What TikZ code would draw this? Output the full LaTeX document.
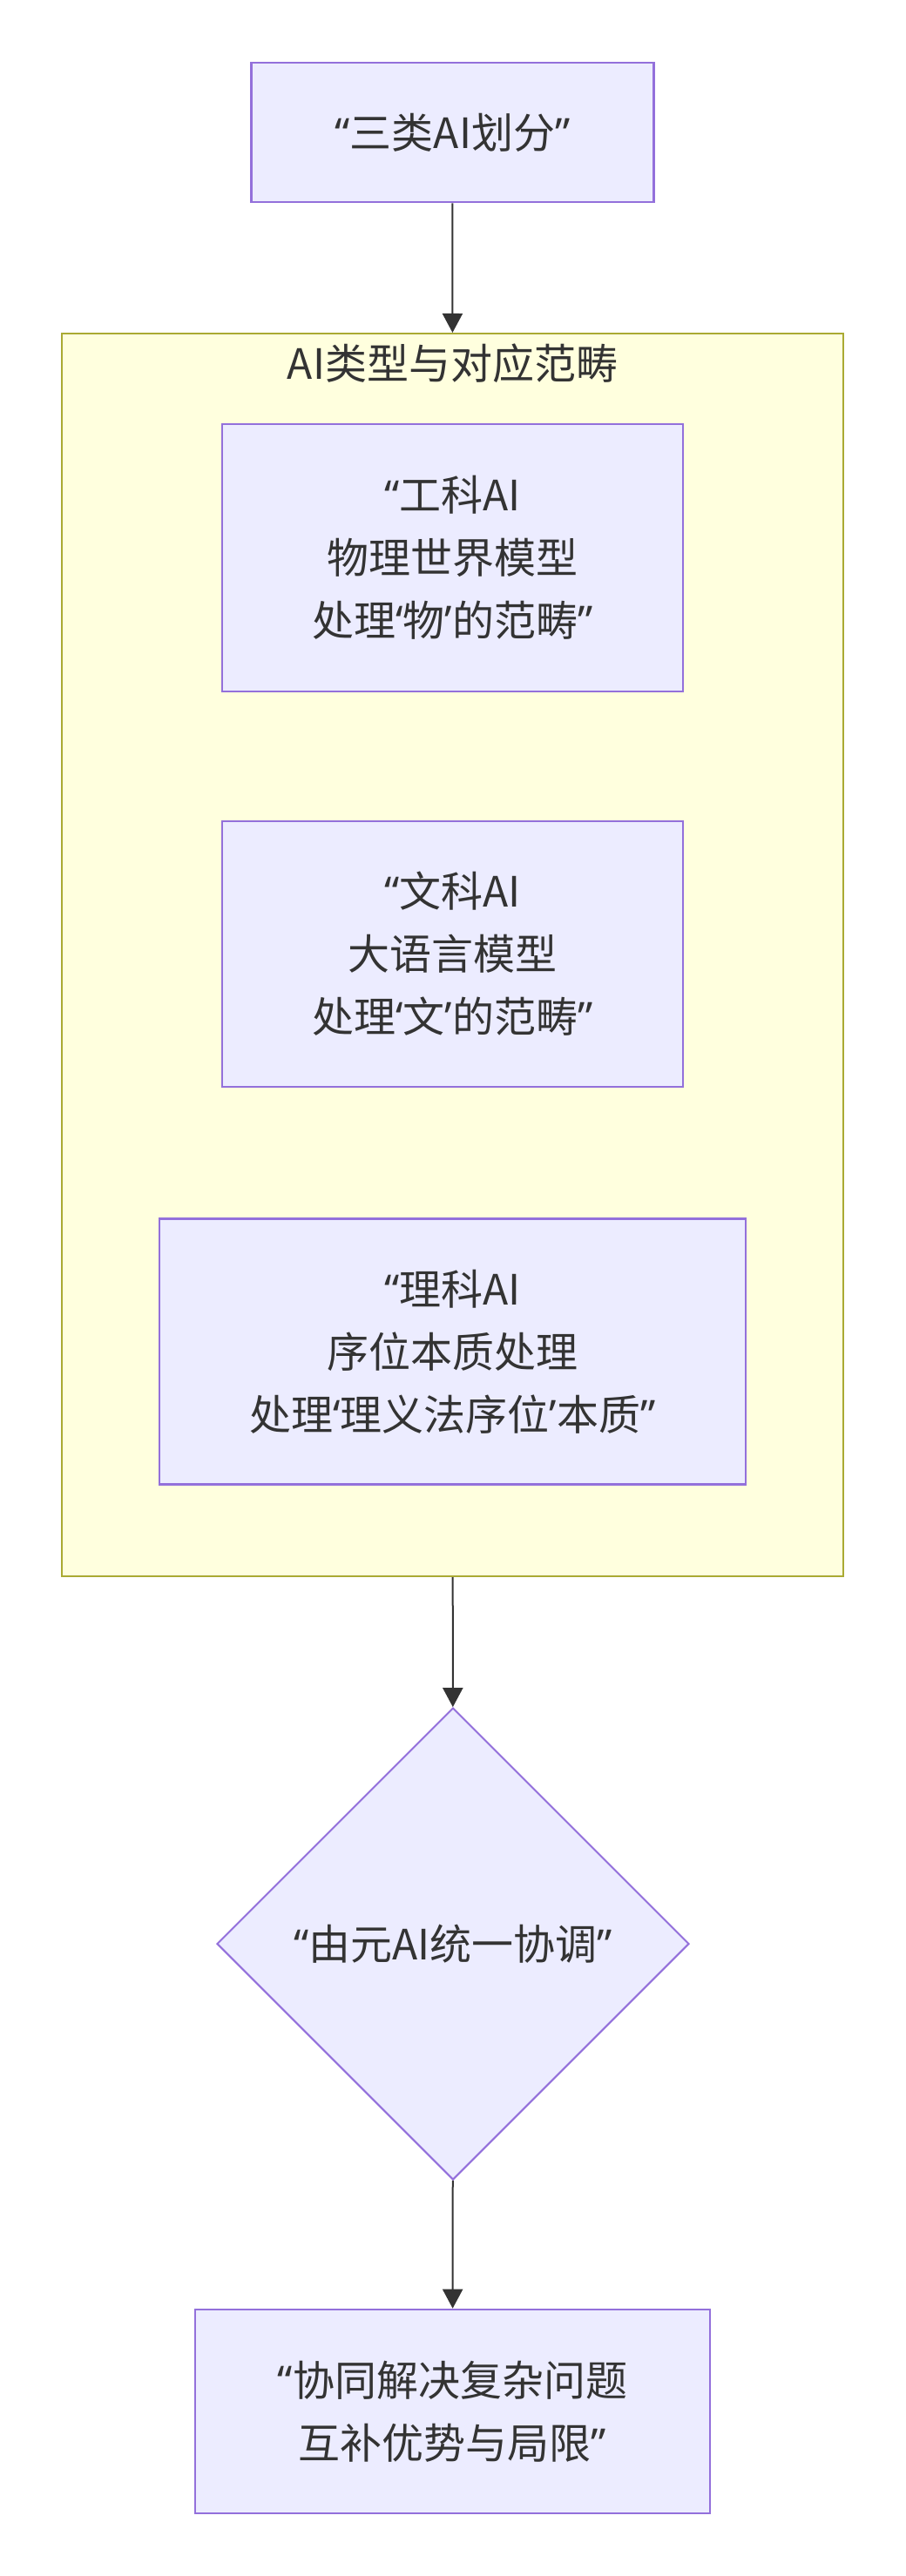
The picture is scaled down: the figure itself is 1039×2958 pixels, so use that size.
\documentclass[tikz,border=0pt]{standalone}
\usepackage{fontspec}
\setmainfont{Noto Sans CJK SC}
\newfontfamily\qfont{Noto Sans}
\usepackage{tikz}
\usetikzlibrary{shapes.geometric, arrows.meta, positioning}
\usepackage{xcolor}
\definecolor{NodeFill}{HTML}{ECECFF}
\definecolor{NodeLine}{HTML}{9370DB}
\definecolor{GroupFill}{HTML}{FFFFDE}
\definecolor{GroupLine}{HTML}{AAAA33}
\definecolor{Ink}{HTML}{333333}

\begin{document}
\begin{tikzpicture}[x=0.5pt, y=-0.5pt,
            block/.style={rectangle, draw=NodeLine, line width=1.3pt, fill=NodeFill, inner sep=0pt, align=center, text=Ink, font=\fontsize{24pt}{36pt}\selectfont},
            choice/.style={diamond, draw=NodeLine, line width=1pt, fill=NodeFill, inner sep=0pt, minimum width=271pt, minimum height=271pt, align=center, text=Ink, font=\fontsize{24pt}{36pt}\selectfont},
            cluster/.style={rectangle, draw=GroupLine, line width=1pt, fill=GroupFill, inner sep=0pt},
            lbl/.style={text=Ink, inner sep=0pt, font=\fontsize{24pt}{36pt}\selectfont},
            arrow/.style={-{Triangle[length=11pt, width=11.5pt]}, line width=1pt, color=Ink}
        ]
            \useasboundingbox (0,0) rectangle (1039,2958);

            % Starting node
            \node[block, minimum width=231pt, minimum height=80pt] (split) at (519.5,152) {{\qfont “}三类AI划分{\qfont ”}};

            % Group of the three AI types
            \node[cluster, minimum width=448.75pt, minimum height=713.5pt] (group) at (519.25,1096.5) {};
            \node[lbl] (grouptitle) at (519.5,417) {AI类型与对应范畴};
            \node[block, minimum width=264.5pt, minimum height=153.5pt] (gongke) at (519.5,640.5) {{\qfont “}工科AI\\物理世界模型\\处理{\qfont ‘}物{\qfont ’}的范畴{\qfont ”}};
            \node[block, minimum width=264.5pt, minimum height=152.5pt] (wenke) at (519.5,1095.5) {{\qfont “}文科AI\\大语言模型\\处理{\qfont ‘}文{\qfont ’}的范畴{\qfont ”}};
            \node[block, minimum width=336.5pt, minimum height=152.5pt] (like) at (519.5,1552) {{\qfont “}理科AI\\序位本质处理\\处理{\qfont ‘}理义法序位{\qfont ’}本质{\qfont ”}};

            % Coordination and result
            \node[choice] (meta) at (520,2232) {{\qfont “}由元AI统一协调{\qfont ”}};
            \node[block, minimum width=295.5pt, minimum height=117pt] (result) at (519.5,2769) {{\qfont “}协同解决复杂问题\\互补优势与局限{\qfont ”}};

            % Connections
            \draw[arrow] (split) -- (group);
            \draw[arrow] (group) -- (meta);
            \draw[arrow] (meta) -- (result);
        \end{tikzpicture}
\end{document}
